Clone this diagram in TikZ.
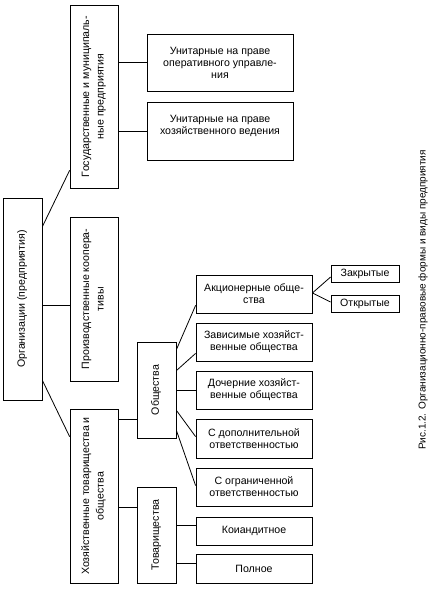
\documentclass[tikz,border=0pt]{standalone}
\usepackage{fontspec}
\usepackage{graphicx}
\setmainfont{Liberation Sans}
\newcommand{\boxfont}{\fontsize{10.6}{12}\selectfont}
\newcommand{\capfont}{\fontsize{10}{12}\selectfont}
\newcommand{\rottext}[1]{\rotatebox{90}{\begin{tabular}{@{}c@{}}#1\end{tabular}}}
\begin{document}
\begin{tikzpicture}[x=1pt,y=-1pt,
  box/.style={draw, line width=0.8pt, inner sep=0pt, align=center, font=\boxfont},
  conn/.style={line width=0.8pt}]
\useasboundingbox (0,0) rectangle (433,593);
% left column
\node[box, minimum width=39pt, minimum height=202pt] (root) at (22.5,299) {\rottext{Организации (предприятия)}};
\node[box, minimum width=48pt, minimum height=183pt] (A) at (94,96.5) {\rottext{Государственные и муниципаль-\\[2.5pt]ные предприятия}};
\node[box, minimum width=48pt, minimum height=164pt] (B) at (94,299) {\rottext{Производственные коопера-\\[2.5pt]тивы}};
\node[box, minimum width=48pt, minimum height=174pt] (C) at (94,496) {\rottext{Хозяйственные товарищества и\\[2.5pt]общества}};
% unitary
\node[box, minimum width=146pt, minimum height=57pt] (b1) at (220,62.5) {Унитарные на праве\\оперативного управле-\\ния};
\node[box, minimum width=146pt, minimum height=58pt] (b2) at (220,131) {Унитарные на праве\\хозяйственного ведения\\\mbox{}};
% middle
\node[box, minimum width=39pt, minimum height=96pt] (D) at (156.5,390) {\rottext{Общества}};
\node[box, minimum width=39pt, minimum height=96pt] (E) at (156.5,535) {\rottext{Товарищества}};
% right column
\node[box, minimum width=116pt, minimum height=38pt] (ak) at (254,294) {Акционерные обще-\\ства};
\node[box, minimum width=116pt, minimum height=38pt] (zav) at (254,342) {Зависимые хозяйст-\\венные общества};
\node[box, minimum width=116pt, minimum height=38pt] (doch) at (254,390) {Дочерние хозяйст-\\венные общества};
\node[box, minimum width=116pt, minimum height=39pt] (sdop) at (254,438.5) {С дополнительной\\ответственностью};
\node[box, minimum width=116pt, minimum height=38pt] (sogr) at (254,487) {С ограниченной\\ответственностью};
\node[box, minimum width=116pt, minimum height=28pt] (komm) at (254,531) {Коиандитное};
\node[box, minimum width=116pt, minimum height=29pt] (pol) at (254,568.5) {Полное};
\node[box, minimum width=68pt, minimum height=17pt] (zakr) at (365,273.5) {Закрытые};
\node[box, minimum width=68pt, minimum height=17pt] (otkr) at (365,303.5) {Открытые};
% caption
\node[font=\capfont, rotate=90, inner sep=0pt] (cap) at (423,300) {Рис.1.2. Организационно-правовые формы и виды предприятия};
% connectors
\draw[conn] ([yshift=-29pt]root.north east) -- ([yshift=18pt]A.south west);
\draw[conn] ([yshift=-6pt]root.east) -- ([yshift=-6pt]B.west);
\draw[conn] ([yshift=20pt]root.south east) -- ([yshift=-28pt]C.north west);
\draw[conn] (b1.west -| A.east) -- (b1.west);
\draw[conn] (b2.west -| A.east) -- (b2.west);
\coordinate (d1) at ([yshift=-29pt]D.west);
\draw[conn] (d1 -| C.east) -- (d1);
\coordinate (e1) at ([yshift=28pt]E.west);
\draw[conn] (e1 -| C.east) -- (e1);
\draw[conn] ([yshift=-8pt]D.north east) -- ([yshift=8pt]ak.south west);
\draw[conn] ([yshift=-29pt]D.north east) -- ([yshift=8pt]zav.south west);
\draw[conn] (doch.west -| D.east) -- (doch.west);
\draw[conn] ([yshift=28pt]D.south east) -- ([yshift=-18pt]sdop.north west);
\draw[conn] ([yshift=8pt]D.south east) -- ([yshift=-18pt]sogr.north west);
\coordinate (k1) at ([yshift=-9pt]komm.north west);
\draw[conn] (k1 -| E.east) -- (k1);
\coordinate (p1) at ([yshift=-10pt]pol.north west);
\draw[conn] (p1 -| E.east) -- (p1);
\draw[conn] ([yshift=1pt]ak.east) -- ([yshift=-3.5pt]zakr.west);
\draw[conn] ([yshift=1pt]ak.east) -- ([yshift=1.5pt]otkr.west);
\end{tikzpicture}
\end{document}
